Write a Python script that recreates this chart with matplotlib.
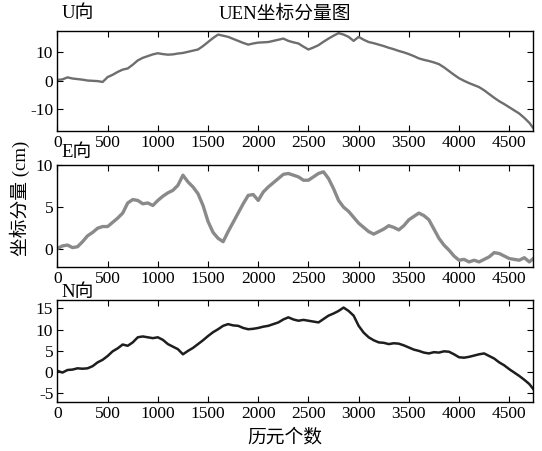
import numpy as np
import matplotlib
matplotlib.use("Agg")
import matplotlib.pyplot as plt

plt.rcParams['font.family'] = ['Liberation Serif', 'Noto Sans CJK SC']
plt.rcParams['axes.unicode_minus'] = False

# 历元 (epoch) grid used when reading values off the figure
epoch = [0, 50, 100, 150, 200, 250, 300, 350, 400, 450, 500, 550, 600, 650, 700, 750,
         800, 850, 900, 950, 1000, 1050, 1100, 1150, 1200, 1250, 1300, 1350, 1400, 1450,
         1500, 1550, 1600, 1650, 1700, 1750, 1800, 1850, 1900, 1950, 2000, 2050, 2100,
         2150, 2200, 2250, 2300, 2350, 2400, 2450, 2500, 2550, 2600, 2650, 2700, 2750,
         2800, 2850, 2900, 2950, 3000, 3050, 3100, 3150, 3200, 3250, 3300, 3350, 3400,
         3450, 3500, 3550, 3600, 3650, 3700, 3750, 3800, 3850, 3900, 3950, 4000, 4050,
         4100, 4150, 4200, 4250, 4300, 4350, 4400, 4450, 4500, 4550, 4600, 4650, 4700,
         4740]

u_cm = [0.2, 0.4, 1.1, 0.7, 0.5, 0.3, 0.0, -0.1, -0.2, -0.5, 1.2, 2.0, 3.0, 3.8, 4.2, 5.5,
        7.0, 7.9, 8.5, 9.1, 9.5, 9.2, 9.0, 9.1, 9.4, 9.6, 10.0, 10.4, 10.8, 12.0,
        13.4, 14.8, 16.0, 15.6, 15.2, 14.5, 13.8, 13.1, 12.5, 12.9, 13.2, 13.3, 13.4,
        13.8, 14.2, 14.6, 13.8, 13.3, 12.9, 11.8, 10.8, 11.5, 12.3, 13.5, 14.6, 15.6,
        16.5, 16.0, 15.2, 13.8, 15.2, 14.2, 13.4, 13.0, 12.5, 12.0, 11.4, 10.9, 10.3,
        9.8, 9.2, 8.5, 7.7, 7.2, 6.8, 6.3, 5.7, 4.6, 3.3, 2.0, 0.8, -0.1,
        -0.9, -1.6, -2.3, -3.4, -4.7, -6.0, -7.2, -8.2, -9.3, -10.4, -11.5, -13.0, -14.7,
        -16.6]

e_cm = [0.1, 0.4, 0.5, 0.2, 0.3, 0.9, 1.6, 2.0, 2.5, 2.7, 2.7, 3.2, 3.7, 4.3, 5.5, 5.9,
        5.8, 5.4, 5.5, 5.2, 5.8, 6.3, 6.7, 7.0, 7.6, 8.8, 8.0, 7.4, 6.6, 5.2,
        3.3, 2.0, 1.3, 0.9, 2.1, 3.2, 4.3, 5.4, 6.4, 6.5, 5.8, 6.8, 7.4, 7.9, 8.4, 8.9,
        9.0, 8.8, 8.6, 8.2, 8.2, 8.6, 9.0, 9.2, 8.4, 7.2, 5.8, 5.0, 4.5, 3.8, 3.1,
        2.6, 2.1, 1.8, 2.1, 2.4, 2.8, 2.6, 2.3, 2.8, 3.5, 3.9, 4.3, 4.0, 3.5, 2.4,
        1.3, 0.5, -0.1, -0.8, -1.3, -1.2, -1.5, -1.3, -1.5, -1.2, -0.9, -0.4, -0.5,
        -0.8, -1.1, -1.2, -1.3, -1.0, -1.5, -1.1]

n_cm = [0.3, -0.1, 0.5, 0.6, 0.9, 0.8, 0.9, 1.4, 2.3, 2.9, 3.8, 4.9, 5.6, 6.5, 6.2, 7.0,
        8.2, 8.4, 8.2, 8.0, 8.2, 7.6, 6.6, 6.0, 5.4, 4.2, 5.0, 5.7, 6.6, 7.5,
        8.5, 9.4, 10.1, 10.9, 11.3, 11.0, 10.9, 10.4, 10.1, 10.2, 10.4, 10.7, 10.9,
        11.3, 11.7, 12.4, 12.9, 12.4, 12.1, 12.3, 12.1, 11.9, 11.7, 12.5, 13.3, 13.8,
        14.4, 15.2, 14.4, 13.3, 10.9, 9.3, 8.2, 7.5, 7.0, 6.9, 6.6, 6.8, 6.7, 6.3, 5.8,
        5.3, 5.0, 4.6, 4.4, 4.7, 4.6, 4.9, 4.8, 4.2, 3.5, 3.4, 3.6, 3.9, 4.2, 4.4, 3.8,
        3.2, 2.3, 1.6, 0.7, -0.1, -0.9, -1.8, -2.8, -4.0]

panels = [
    ("U向", u_cm, "#6e6e6e", 1.7, (-17.5, 17.2), [-10, 0, 10]),
    ("E向", e_cm, "#8a8a8a", 2.4, (-2.05, 10), [0, 5, 10]),
    ("N向", n_cm, "#1e1e1e", 1.8, (-7.1, 17.0), [-5, 0, 5, 10, 15]),
]
boxes = [(0.106, 0.710, 0.878, 0.221),
         (0.106, 0.409, 0.878, 0.225),
         (0.106, 0.108, 0.878, 0.227)]
label_y = [0.969, 0.662, 0.352]

fig = plt.figure(figsize=(5.42, 4.51), dpi=100)
for (name, vals, col, lw, ylim, yt), box, ly in zip(panels, boxes, label_y):
    ax = fig.add_axes(box)
    ax.plot(epoch, vals, color=col, linewidth=lw)
    ax.set_xlim(0, 4740)
    ax.set_ylim(*ylim)
    ax.set_xticks(np.arange(0, 4501, 500))
    ax.set_yticks(yt)
    ax.tick_params(direction='in', top=True, right=True, length=4, labelsize=12.5, pad=3)
    for s in ax.spines.values():
        s.set_linewidth(1.0)
    fig.text(0.114, ly, name, fontsize=13.5, ha='left', va='center')

fig.text(0.526, 0.969, "UEN坐标分量图", fontsize=13.5, ha='center', va='center')
fig.text(0.037, 0.561, "坐标分量 (cm)", fontsize=13.5, rotation=90, ha='center', va='center')
fig.text(0.526, 0.029, "历元个数", fontsize=13.5, ha='center', va='center')

fig.savefig("out.png", dpi=100)
